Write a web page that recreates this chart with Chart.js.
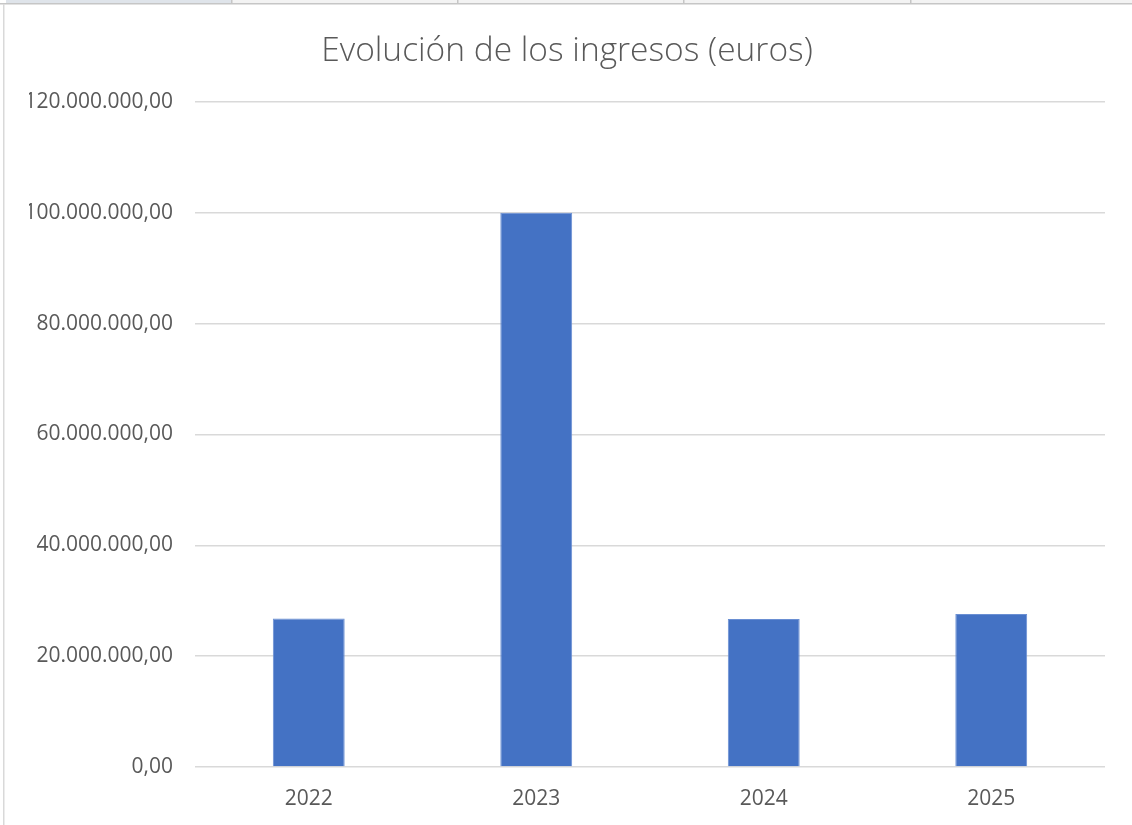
<!DOCTYPE html>
<html>
<head>
<meta charset="utf-8">
<script src="https://cdn.jsdelivr.net/npm/chart.js@4.4.1/dist/chart.umd.min.js"></script>
<style>
  html, body { margin: 0; padding: 0; background: #ffffff; }
  #wrap { position: relative; width: 1132px; height: 825px; }
  canvas { display: block; }
</style>
</head>
<body>
<div id="wrap"><canvas id="c" width="1132" height="825"></canvas></div>
<script>
const chartTitle = 'Evolución de los ingresos (euros)';
const categories = ['2022', '2023', '2024', '2025'];
const ingresos = [26800000, 100000000, 26700000, 27600000];
const yTickLabels = ['0,00', '20.000.000,00', '40.000.000,00', '60.000.000,00', '80.000.000,00', '100.000.000,00', '120.000.000,00'];
const yMin = 0, yMax = 120000000, yStep = 20000000;

const frame = {
  id: 'frame',
  beforeDraw(chart) {
    const ctx = chart.ctx;
    ctx.save();
    ctx.fillStyle = '#ffffff';
    ctx.fillRect(0, 0, chart.width, chart.height);
    // spreadsheet strip above the chart
    ctx.fillStyle = '#dfe4ea';
    ctx.fillRect(6, 0, 225, 3);
    ctx.fillStyle = '#f3f3f3';
    ctx.fillRect(231, 0, chart.width - 231, 3);
    ctx.fillStyle = '#c6c6c6';
    ctx.fillRect(0, 3, chart.width, 1.5);
    [231, 457, 683, 910].forEach(x => ctx.fillRect(x, 0, 1.5, 3));
    // chart border
    ctx.fillStyle = '#d9d9d9';
    ctx.fillRect(3, 4, 1.5, chart.height - 4);
    ctx.restore();
  }
};

new Chart(document.getElementById('c'), {
  type: 'bar',
  data: {
    labels: categories,
    datasets: [{
      label: 'Ingresos',
      data: ingresos,
      backgroundColor: '#4472c4',
      borderColor: '#6a8fd3',
      borderWidth: 1,
      barPercentage: 0.316,
      categoryPercentage: 1.0
    }]
  },
  options: {
    responsive: false,
    animation: false,
    layout: { padding: { left: 29, right: 27, top: 0, bottom: 0 } },
    plugins: {
      legend: { display: false },
      tooltip: { enabled: false },
      title: {
        display: true,
        text: chartTitle,
        color: '#595959',
        font: { family: 'Open Sans', size: 33.5, weight: '300', lineHeight: 1.2 },
        padding: { top: 31, bottom: 30.8 }
      }
    },
    scales: {
      x: {
        grid: { display: false },
        border: { display: false },
        ticks: {
          color: '#595959',
          font: { family: 'Open Sans', size: 21 },
          padding: 11
        },
        afterFit(scale) { scale.height = 58; }
      },
      y: {
        min: yMin,
        max: yMax,
        grid: { color: '#d9d9d9', lineWidth: 1.5, drawTicks: false },
        border: { display: false },
        ticks: {
          stepSize: yStep,
          color: '#595959',
          font: { family: 'Open Sans', size: 21 },
          padding: 22,
          callback: (v, i) => yTickLabels[i]
        },
        afterFit(scale) { scale.width = 166; }
      }
    }
  },
  plugins: [frame]
});
</script>
</body>
</html>
